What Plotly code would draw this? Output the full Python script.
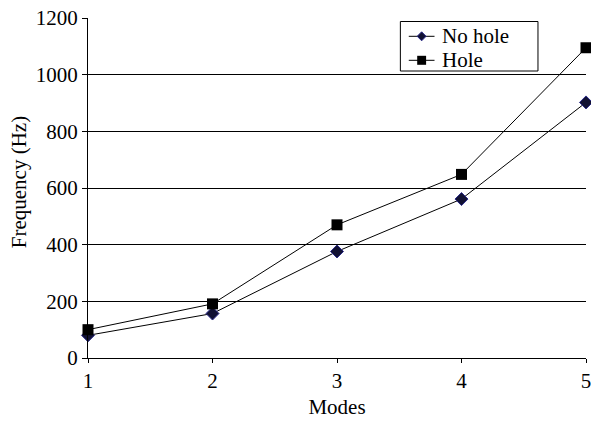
import plotly.graph_objects as go

modes = [1, 2, 3, 4, 5]
no_hole = [80, 157, 376, 561, 902]
hole = [100, 191, 470, 648, 1095]
series_names = ["No hole", "Hole"]
y_ticks = [0, 200, 400, 600, 800, 1000, 1200]

FONT = "Liberation Serif, Times New Roman, Times, serif"
W, H = 591, 421
ML, MR, MT, MB = 88, 0, 18, 63
PW, PH = W - ML - MR, H - MT - MB

fig = go.Figure()
fig.add_trace(go.Scatter(
    x=modes, y=no_hole, name=series_names[0], mode="lines+markers",
    line=dict(color="black", width=1),
    marker=dict(symbol="diamond", size=10, color="#111133",
                line=dict(color="#2a2a8a", width=1)),
    cliponaxis=False, showlegend=False,
))
fig.add_trace(go.Scatter(
    x=modes, y=hole, name=series_names[1], mode="lines+markers",
    line=dict(color="black", width=1),
    marker=dict(symbol="square", size=11, color="black"),
    cliponaxis=False, showlegend=False,
))


# --- custom legend (paper coordinates computed from pixel positions) ---
def px(x):
    return (x - ML) / PW


def py(y):
    return (H - MB - y) / PH


shapes = []
annotations = []
shapes.append(dict(type="rect", xref="paper", yref="paper",
                   x0=px(403.5), x1=px(542.5), y0=py(71), y1=py(21.5),
                   line=dict(color="black", width=1), fillcolor="white",
                   layer="above"))
rows_y = [36.3, 60.3]
for i, (name, ry) in enumerate(zip(series_names, rows_y)):
    shapes.append(dict(type="line", xref="paper", yref="paper",
                       x0=px(412), x1=px(438), y0=py(ry), y1=py(ry),
                       line=dict(color="black", width=1), layer="above"))
    cx = 425
    if i == 0:
        r = 4.5
        path = (f"M {px(cx - r)},{py(ry)} L {px(cx)},{py(ry - r)} "
                f"L {px(cx + r)},{py(ry)} L {px(cx)},{py(ry + r)} Z")
        shapes.append(dict(type="path", xref="paper", yref="paper", path=path,
                           fillcolor="#111133", line=dict(color="#2a2a8a", width=1),
                           layer="above"))
    else:
        r = 4.5
        shapes.append(dict(type="rect", xref="paper", yref="paper",
                           x0=px(cx - r), x1=px(cx + r), y0=py(ry + r), y1=py(ry - r),
                           fillcolor="black", line=dict(color="black", width=0),
                           layer="above"))
    annotations.append(dict(xref="paper", yref="paper", x=px(444), y=py(ry),
                            xanchor="left", yanchor="middle", showarrow=False,
                            text=name, font=dict(family=FONT, size=21, color="black")))

# y-axis title placed as an annotation to match its vertical position
annotations.append(dict(xref="paper", yref="paper", x=px(18.5), y=py(182),
                        xanchor="center", yanchor="middle", showarrow=False,
                        textangle=-90, text="Frequency (Hz)",
                        font=dict(family=FONT, size=21, color="black")))

fig.update_layout(
    width=W, height=H,
    margin=dict(l=ML, r=MR, t=MT, b=MB),
    paper_bgcolor="white", plot_bgcolor="white",
    font=dict(family=FONT, size=21, color="black"),
    showlegend=False,
    shapes=shapes,
    annotations=annotations,
    xaxis=dict(
        title=dict(text="Modes", font=dict(family=FONT, size=21), standoff=7),
        range=[1, 5], tickvals=modes, ticktext=[str(m) for m in modes],
        showgrid=False, zeroline=False,
        showline=True, linecolor="black", linewidth=1,
        ticks="outside", ticklen=4, tickcolor="black",
        ticklabeloverflow="allow",
    ),
    yaxis=dict(
        range=[0, 1200], tickvals=y_ticks,
        showgrid=True, gridcolor="black", gridwidth=1,
        zeroline=False,
        showline=True, linecolor="black", linewidth=1,
        ticks="outside", ticklen=5, tickcolor="black",
    ),
)

fig.write_html("out.html", config={"displayModeBar": False},
               post_script="document.body.style.margin='0';document.body.style.overflow='hidden';")
